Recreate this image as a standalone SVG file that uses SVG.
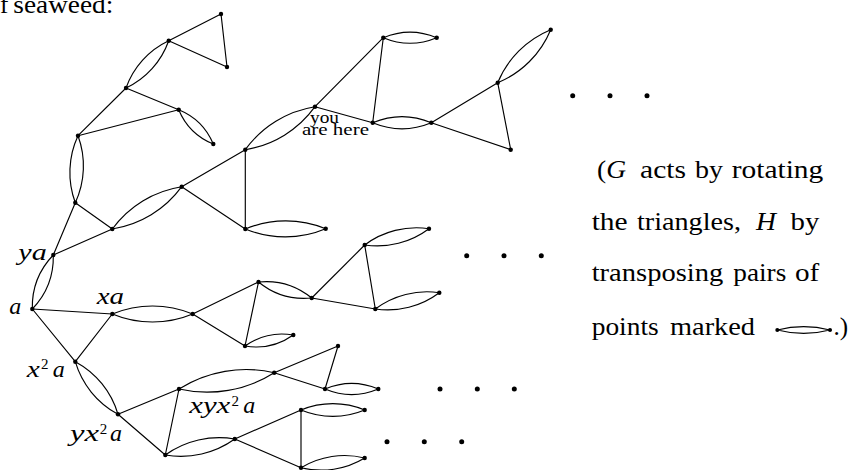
<svg xmlns="http://www.w3.org/2000/svg" width="851" height="470" viewBox="0 0 851 470">
<style>
.e{stroke:#000;stroke-width:1.15;fill:none;stroke-linecap:round}
.n{fill:#000}
.t{font-family:"Liberation Serif","Times New Roman",serif;font-size:25px;fill:#000}
.m{font-family:"Liberation Serif","Times New Roman",serif;font-size:24px;font-style:italic;fill:#000}
.s{font-family:"Liberation Serif","Times New Roman",serif;font-size:15px;fill:#000}
.y{font-family:"Liberation Serif","Times New Roman",serif;font-size:17px;fill:#000}
</style>
<rect width="851" height="470" fill="#fff"/>
<text class="t" x="0" y="12.5">f</text>
<text class="t" x="13.3" y="12.5" textLength="100" lengthAdjust="spacingAndGlyphs">seaweed:</text>

<g id="connectors">
<line class="e" x1="168.7" y1="40.7" x2="221" y2="14"/>
<line class="e" x1="168.7" y1="40.7" x2="227" y2="67"/>
<line class="e" x1="221" y1="14" x2="227" y2="67"/>
<line class="e" x1="126" y1="88" x2="178.7" y2="109.7"/>
<line class="e" x1="126" y1="88" x2="78" y2="135.7"/>
<line class="e" x1="78" y1="135.7" x2="178.7" y2="109.7"/>
<line class="e" x1="75.3" y1="202.7" x2="112.3" y2="229"/>
<line class="e" x1="75.3" y1="202.7" x2="53.3" y2="255"/>
<line class="e" x1="53.3" y1="255" x2="112.3" y2="229"/>
<line class="e" x1="181.7" y1="186.7" x2="245.3" y2="149.7"/>
<line class="e" x1="181.7" y1="186.7" x2="245.3" y2="229"/>
<line class="e" x1="245.3" y1="149.7" x2="245.3" y2="229"/>
<line class="e" x1="315" y1="106.7" x2="383.3" y2="37.7"/>
<line class="e" x1="315" y1="106.7" x2="372.7" y2="122.7"/>
<line class="e" x1="383.3" y1="37.7" x2="372.7" y2="122.7"/>
<line class="e" x1="431.3" y1="122.7" x2="497.7" y2="82.7"/>
<line class="e" x1="431.3" y1="122.7" x2="510.7" y2="149.7"/>
<line class="e" x1="497.7" y1="82.7" x2="510.7" y2="149.7"/>
<line class="e" x1="32.3" y1="309" x2="112.3" y2="314"/>
<line class="e" x1="32.3" y1="309" x2="75.3" y2="361.7"/>
<line class="e" x1="112.3" y1="314" x2="75.3" y2="361.7"/>
<line class="e" x1="192.7" y1="314" x2="258.5" y2="282"/>
<line class="e" x1="192.7" y1="314" x2="245" y2="346"/>
<line class="e" x1="258.5" y1="282" x2="245" y2="346"/>
<line class="e" x1="311.7" y1="298" x2="364.7" y2="245"/>
<line class="e" x1="311.7" y1="298" x2="375.3" y2="309"/>
<line class="e" x1="364.7" y1="245" x2="375.3" y2="309"/>
<line class="e" x1="118" y1="414.3" x2="179" y2="389"/>
<line class="e" x1="118" y1="414.3" x2="165.3" y2="455"/>
<line class="e" x1="179" y1="389" x2="165.3" y2="455"/>
<line class="e" x1="274.2" y1="372.7" x2="338" y2="346"/>
<line class="e" x1="274.2" y1="372.7" x2="325" y2="389"/>
<line class="e" x1="338" y1="346" x2="325" y2="389"/>
<line class="e" x1="234.8" y1="439" x2="301" y2="410"/>
<line class="e" x1="234.8" y1="439" x2="301" y2="467.7"/>
<line class="e" x1="301" y1="410" x2="301" y2="467.7"/>

<path class="e" d="M168.7 40.7A82.8 82.8 0 0 0 126 88A82.8 82.8 0 0 0 168.7 40.7"/>
<path class="e" d="M178.7 109.7A63.3 63.3 0 0 0 213.3 144A63.3 63.3 0 0 0 178.7 109.7"/>
<path class="e" d="M78 135.7A87.2 87.2 0 0 0 75.3 202.7A87.2 87.2 0 0 0 78 135.7"/>
<path class="e" d="M112.3 229A105.7 105.7 0 0 0 181.7 186.7A105.7 105.7 0 0 0 112.3 229"/>
<path class="e" d="M245.3 149.7A106.5 106.5 0 0 0 315 106.7A106.5 106.5 0 0 0 245.3 149.7"/>
<path class="e" d="M245.3 229A104.5 104.5 0 0 0 325.7 228.7A104.5 104.5 0 0 0 245.3 229"/>
<path class="e" d="M383.3 37.7A69.4 69.4 0 0 0 436.7 37.7A69.4 69.4 0 0 0 383.3 37.7"/>
<path class="e" d="M372.7 122.7A76.2 76.2 0 0 0 431.3 122.7A76.2 76.2 0 0 0 372.7 122.7"/>
<path class="e" d="M497.7 82.7A97.5 97.5 0 0 0 550.7 29.7A97.5 97.5 0 0 0 497.7 82.7"/>
<path class="e" d="M364.7 245A86.2 86.2 0 0 0 429 228.7A86.2 86.2 0 0 0 364.7 245"/>
<path class="e" d="M375.3 309A85.8 85.8 0 0 0 439.3 292.7A85.8 85.8 0 0 0 375.3 309"/>
<path class="e" d="M53.3 255A75.3 75.3 0 0 0 32.3 309A75.3 75.3 0 0 0 53.3 255"/>
<path class="e" d="M112.3 314A104.5 104.5 0 0 0 192.7 314A104.5 104.5 0 0 0 112.3 314"/>
<path class="e" d="M258.5 282A72.2 72.2 0 0 0 311.7 298A72.2 72.2 0 0 0 258.5 282"/>
<path class="e" d="M245 346A64.4 64.4 0 0 0 293.3 335A64.4 64.4 0 0 0 245 346"/>
<path class="e" d="M75.3 361.7A88 88 0 0 0 118 414.3A88 88 0 0 0 75.3 361.7"/>
<path class="e" d="M179 389A125.6 125.6 0 0 0 274.2 372.7A125.6 125.6 0 0 0 179 389"/>
<path class="e" d="M165.3 455A92.7 92.7 0 0 0 234.8 439A92.7 92.7 0 0 0 165.3 455"/>
<path class="e" d="M325 389A69.3 69.3 0 0 0 378.3 389A69.3 69.3 0 0 0 325 389"/>
<path class="e" d="M301 410A82.8 82.8 0 0 0 364.7 410A82.8 82.8 0 0 0 301 410"/>
<path class="e" d="M301 467.7A83.7 83.7 0 0 0 364.7 458A83.7 83.7 0 0 0 301 467.7"/>
</g>

<g id="n-A1"><circle class="n" cx="221" cy="14" r="2.2"/></g>
<g id="n-B"><circle class="n" cx="168.7" cy="40.7" r="2.2"/></g>
<g id="n-C"><circle class="n" cx="227" cy="67" r="2.2"/></g>
<g id="n-D"><circle class="n" cx="126" cy="88" r="2.2"/></g>
<g id="n-E"><circle class="n" cx="178.7" cy="109.7" r="2.2"/></g>
<g id="n-F"><circle class="n" cx="213.3" cy="144" r="2.2"/></g>
<g id="n-G"><circle class="n" cx="78" cy="135.7" r="2.2"/></g>
<g id="n-H"><circle class="n" cx="75.3" cy="202.7" r="2.2"/></g>
<g id="n-I"><circle class="n" cx="112.3" cy="229" r="2.2"/></g>
<g id="n-J"><circle class="n" cx="181.7" cy="186.7" r="2.2"/></g>
<g id="n-K"><circle class="n" cx="245.3" cy="149.7" r="2.2"/></g>
<g id="n-L"><circle class="n" cx="245.3" cy="229" r="2.2"/></g>
<g id="n-M"><circle class="n" cx="315" cy="106.7" r="2.2"/>
<text class="y" x="310" y="123" textLength="29" lengthAdjust="spacingAndGlyphs">you</text>
<text class="y" x="302" y="135" textLength="67" lengthAdjust="spacingAndGlyphs">are here</text></g>
<g id="n-N"><circle class="n" cx="383.3" cy="37.7" r="2.2"/></g>
<g id="n-O"><circle class="n" cx="436.7" cy="37.7" r="2.2"/></g>
<g id="n-P"><circle class="n" cx="372.7" cy="122.7" r="2.2"/></g>
<g id="n-Q"><circle class="n" cx="431.3" cy="122.7" r="2.2"/></g>
<g id="n-R"><circle class="n" cx="497.7" cy="82.7" r="2.2"/></g>
<g id="n-S"><circle class="n" cx="550.7" cy="29.7" r="2.2"/></g>
<g id="n-T"><circle class="n" cx="510.7" cy="149.7" r="2.2"/></g>
<g id="n-U"><circle class="n" cx="325.7" cy="228.7" r="2.2"/></g>
<g id="n-ya"><circle class="n" cx="53.3" cy="255" r="2.2"/>
<text class="m" x="18.3" y="260" textLength="28.4" lengthAdjust="spacingAndGlyphs">ya</text></g>
<g id="n-a"><circle class="n" cx="32.3" cy="309" r="2.2"/>
<text class="m" x="9.3" y="313.5">a</text></g>
<g id="n-xa"><circle class="n" cx="112.3" cy="314" r="2.2"/>
<text class="m" x="96.7" y="304" textLength="27.3" lengthAdjust="spacingAndGlyphs">xa</text></g>
<g id="n-x2a"><circle class="n" cx="75.3" cy="361.7" r="2.2"/>
<text class="m" x="26.7" y="376.5" textLength="13" lengthAdjust="spacingAndGlyphs">x</text><text class="s" x="41" y="369.3">2</text><text class="m" x="52.7" y="376.5">a</text></g>
<g id="n-yx2a"><circle class="n" cx="118" cy="414.3" r="2.2"/>
<text class="m" x="70" y="440.7" textLength="29" lengthAdjust="spacingAndGlyphs">yx</text><text class="s" x="99.8" y="433.5">2</text><text class="m" x="110" y="440.7">a</text></g>
<g id="n-X1"><circle class="n" cx="192.7" cy="314" r="2.2"/></g>
<g id="n-Z1"><circle class="n" cx="258.5" cy="282" r="2.2"/></g>
<g id="n-Z2"><circle class="n" cx="245" cy="346" r="2.2"/></g>
<g id="n-Z3"><circle class="n" cx="311.7" cy="298" r="2.2"/></g>
<g id="n-V"><circle class="n" cx="364.7" cy="245" r="2.2"/></g>
<g id="n-W"><circle class="n" cx="429" cy="228.7" r="2.2"/></g>
<g id="n-Z4"><circle class="n" cx="375.3" cy="309" r="2.2"/></g>
<g id="n-Z5"><circle class="n" cx="439.3" cy="292.7" r="2.2"/></g>
<g id="n-Z6"><circle class="n" cx="293.3" cy="335" r="2.2"/></g>
<g id="n-Y1"><circle class="n" cx="179" cy="389" r="2.2"/>
<text class="m" x="189.3" y="412.7" textLength="41" lengthAdjust="spacingAndGlyphs">xyx</text><text class="s" x="231.5" y="405.5">2</text><text class="m" x="243.3" y="412.7">a</text></g>
<g id="n-Y2"><circle class="n" cx="274.2" cy="372.7" r="2.2"/></g>
<g id="n-Y3"><circle class="n" cx="165.3" cy="455" r="2.2"/></g>
<g id="n-Y4"><circle class="n" cx="234.8" cy="439" r="2.2"/></g>
<g id="n-Y5"><circle class="n" cx="338" cy="346" r="2.2"/></g>
<g id="n-Y6"><circle class="n" cx="325" cy="389" r="2.2"/></g>
<g id="n-Y7"><circle class="n" cx="378.3" cy="389" r="2.2"/></g>
<g id="n-Y8"><circle class="n" cx="301" cy="410" r="2.2"/></g>
<g id="n-Y9"><circle class="n" cx="364.7" cy="410" r="2.2"/></g>
<g id="n-Y10"><circle class="n" cx="301" cy="467.7" r="2.2"/></g>
<g id="n-Y11"><circle class="n" cx="364.7" cy="458" r="2.2"/></g>

<g id="ellipses">
<circle class="n" cx="572.7" cy="95.7" r="2.5"/><circle class="n" cx="610" cy="95.7" r="2.5"/><circle class="n" cx="647" cy="95.7" r="2.5"/>
<circle class="n" cx="466.7" cy="255.7" r="2.5"/><circle class="n" cx="504" cy="255.7" r="2.5"/><circle class="n" cx="541.3" cy="255.7" r="2.5"/>
<circle class="n" cx="440" cy="389" r="2.5"/><circle class="n" cx="477.3" cy="389" r="2.5"/><circle class="n" cx="514.3" cy="389" r="2.5"/>
<circle class="n" cx="387" cy="441.7" r="2.5"/><circle class="n" cx="424.3" cy="441.7" r="2.5"/><circle class="n" cx="461.7" cy="441.7" r="2.5"/>
</g>

<g id="caption">
<text class="t" x="597" y="178" textLength="29" lengthAdjust="spacingAndGlyphs">(<tspan font-style="italic">G</tspan></text>
<text class="t" x="640" y="178" textLength="46" lengthAdjust="spacingAndGlyphs">acts</text>
<text class="t" x="695" y="178" textLength="28" lengthAdjust="spacingAndGlyphs">by</text>
<text class="t" x="731.7" y="178" textLength="91.6" lengthAdjust="spacingAndGlyphs">rotating</text>
<text class="t" x="591.7" y="229.5" textLength="36" lengthAdjust="spacingAndGlyphs">the</text>
<text class="t" x="637" y="229.5" textLength="104" lengthAdjust="spacingAndGlyphs">triangles,</text>
<text class="t" x="756" y="229.5" font-style="italic" textLength="20" lengthAdjust="spacingAndGlyphs">H</text>
<text class="t" x="790.5" y="229.5" textLength="28.8" lengthAdjust="spacingAndGlyphs">by</text>
<text class="t" x="591.7" y="281" textLength="131.6" lengthAdjust="spacingAndGlyphs">transposing</text>
<text class="t" x="733.3" y="281" textLength="53" lengthAdjust="spacingAndGlyphs">pairs</text>
<text class="t" x="795" y="281" textLength="24.3" lengthAdjust="spacingAndGlyphs">of</text>
<text class="t" x="591.7" y="334.5" textLength="67" lengthAdjust="spacingAndGlyphs">points</text>
<text class="t" x="670" y="334.5" textLength="85" lengthAdjust="spacingAndGlyphs">marked</text>
<path class="e" d="M777.3 330A105 105 0 0 0 830 330A105 105 0 0 0 777.3 330"/>
<circle class="n" cx="777.3" cy="330" r="2"/><circle class="n" cx="830" cy="330" r="2"/>
<text class="t" x="833.5" y="334.5">.)</text>
</g>
</svg>
